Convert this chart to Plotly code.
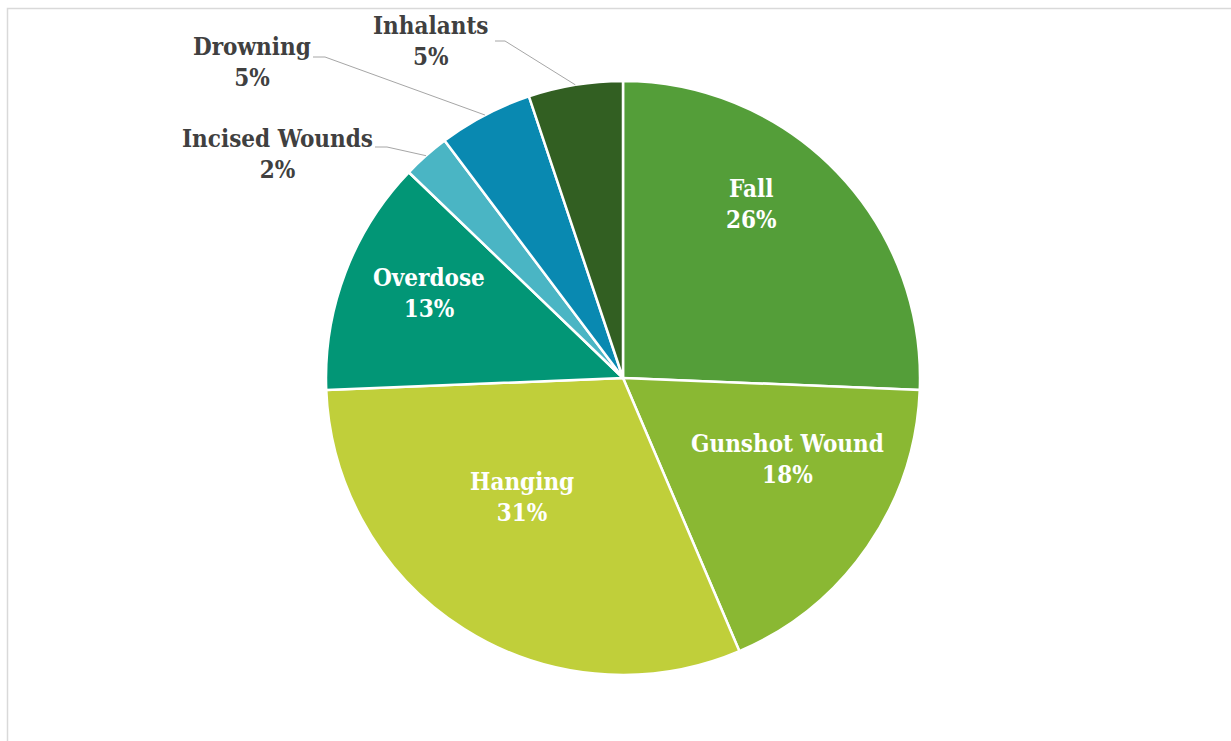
import math
import plotly.graph_objects as go

labels = ["Fall", "Gunshot Wound", "Hanging", "Overdose", "Incised Wounds", "Drowning", "Inhalants"]
counts = [10, 7, 12, 5, 1, 2, 2]
pct_labels = ["26%", "18%", "31%", "13%", "2%", "5%", "5%"]
colors = ["#549E39", "#8AB833", "#C0CF3A", "#029676", "#4AB5C4", "#0989B1", "#325F22"]
outside = [False, False, False, False, True, True, True]

W, H = 1231, 741
CX, CY, R = 623, 378, 297
# label layout in pixels: text centre (tx, ty); for outside labels leader elbow (ex, ey) and end hx
label_layout = {
    "Fall": dict(tx=751, ty=204),
    "Gunshot Wound": dict(tx=787, ty=459),
    "Hanging": dict(tx=522, ty=497),
    "Overdose": dict(tx=429, ty=293),
    "Incised Wounds": dict(tx=277, ty=154, ex=387, ey=147, hx=375),
    "Drowning": dict(tx=252, ty=62, ex=325, ey=57, hx=313),
    "Inhalants": dict(tx=431, ty=41, ex=505, ey=41, hx=495),
}

FONT = "DejaVu Serif Condensed, DejaVu Serif"
FS = 24

def px(x):
    return x / W

def py(y):
    return 1 - y / H

fig = go.Figure(go.Pie(
    labels=labels, values=counts, sort=False, direction="clockwise", rotation=0,
    marker=dict(colors=colors, line=dict(color="white", width=2.5)),
    textinfo="none",
    hoverinfo="label+percent", showlegend=False,
    domain=dict(x=[px(CX - R), px(CX + R)], y=[py(CY + R), py(CY - R)]),
))

total = sum(counts)
cum = 0
shapes = []
annotations = []
for l, v, p, o in zip(labels, counts, pct_labels, outside):
    mid = (cum + v / 2) / total * 2 * math.pi
    cum += v
    lay = label_layout[l]
    annotations.append(dict(x=px(lay["tx"]), y=py(lay["ty"]), xref="paper", yref="paper",
                            text=f"{l}<br>{p}", showarrow=False, align="center",
                            xanchor="center", yanchor="middle",
                            font=dict(family=FONT, size=FS,
                                      color="#404040" if o else "white", weight="bold")))
    if not o:
        continue
    sx = CX + R * math.sin(mid)
    sy = CY - R * math.cos(mid)
    path = (f"M {px(sx)} {py(sy)} L {px(lay['ex'])} {py(lay['ey'])} "
            f"L {px(lay['hx'])} {py(lay['ey'])}")
    shapes.append(dict(type="path", xref="paper", yref="paper", path=path,
                       line=dict(color="#A6A6A6", width=1)))

shapes.append(dict(type="rect", xref="paper", yref="paper", x0=px(7.5), y0=-0.02,
                   x1=1.02, y1=py(8.5), line=dict(color="#D9D9D9", width=1.5),
                   fillcolor="rgba(0,0,0,0)"))

fig.update_layout(width=W, height=H, margin=dict(l=0, r=0, t=0, b=0),
                  paper_bgcolor="white", plot_bgcolor="white",
                  shapes=shapes, annotations=annotations)
fig.write_html("out.html")
